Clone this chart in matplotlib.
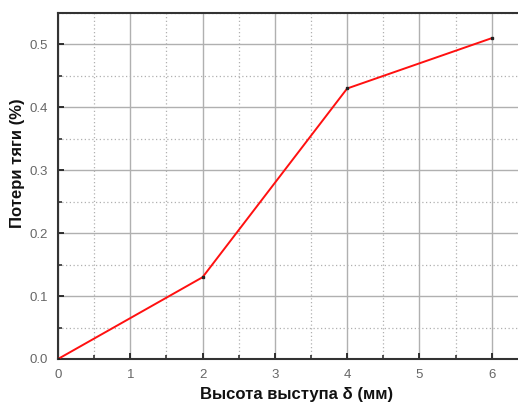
import matplotlib
matplotlib.use("Agg")
import matplotlib.pyplot as plt
from matplotlib.ticker import MultipleLocator

plt.rcParams['font.family'] = ['Liberation Sans', 'DejaVu Sans']

height_mm = [0, 2, 4, 6]
thrust_loss = [0.0, 0.13, 0.43, 0.51]
x_ticks = [0, 1, 2, 3, 4, 5, 6]
y_ticks = [0.0, 0.1, 0.2, 0.3, 0.4, 0.5]

fig = plt.figure(figsize=(5.18, 4.05), dpi=100)
ax = fig.add_axes([0.112, 0.1136, 0.921, 0.8543])

ax.plot(height_mm, thrust_loss, color='#ff1010', lw=1.4, zorder=3)
ax.plot(height_mm, thrust_loss, ls='none', marker='s', ms=2, color='#222222', zorder=4)

ax.set_xlim(0, 6.6)
ax.set_ylim(0, 0.55)
ax.set_xticks(x_ticks)
ax.set_xticklabels([str(v) for v in x_ticks])
ax.set_yticks(y_ticks)
ax.set_yticklabels([f"{v:.1f}" for v in y_ticks])
ax.xaxis.set_minor_locator(MultipleLocator(0.5))
ax.yaxis.set_minor_locator(MultipleLocator(0.05))

ax.grid(which='major', color='#b0b0b0', lw=1.0, ls='-')
ax.grid(which='minor', color='#b0b0b0', lw=0.9, ls=(0, (1, 2)))
ax.set_axisbelow(True)

for side in ['left', 'bottom', 'top']:
    ax.spines[side].set_color('#333333')
    ax.spines[side].set_linewidth(1.5)
ax.spines['right'].set_visible(False)

ax.tick_params(which='major', direction='in', length=4, width=1.3, color='#222222',
               labelsize=9.5, labelcolor='#666666', top=False, right=False, pad=7)
ax.tick_params(which='minor', direction='in', length=3, width=1.1, color='#222222',
               top=False, right=False)

ax.set_xlabel('Высота выступа δ (мм)', fontsize=12, fontweight='bold', color='#111111')
ax.set_ylabel('Потери тяги (%)', fontsize=12, fontweight='bold', color='#111111')
ax.xaxis.set_label_coords(0.5, -0.082)
ax.yaxis.set_label_coords(-0.07, 0.566)

fig.savefig('out.png', dpi=100)
